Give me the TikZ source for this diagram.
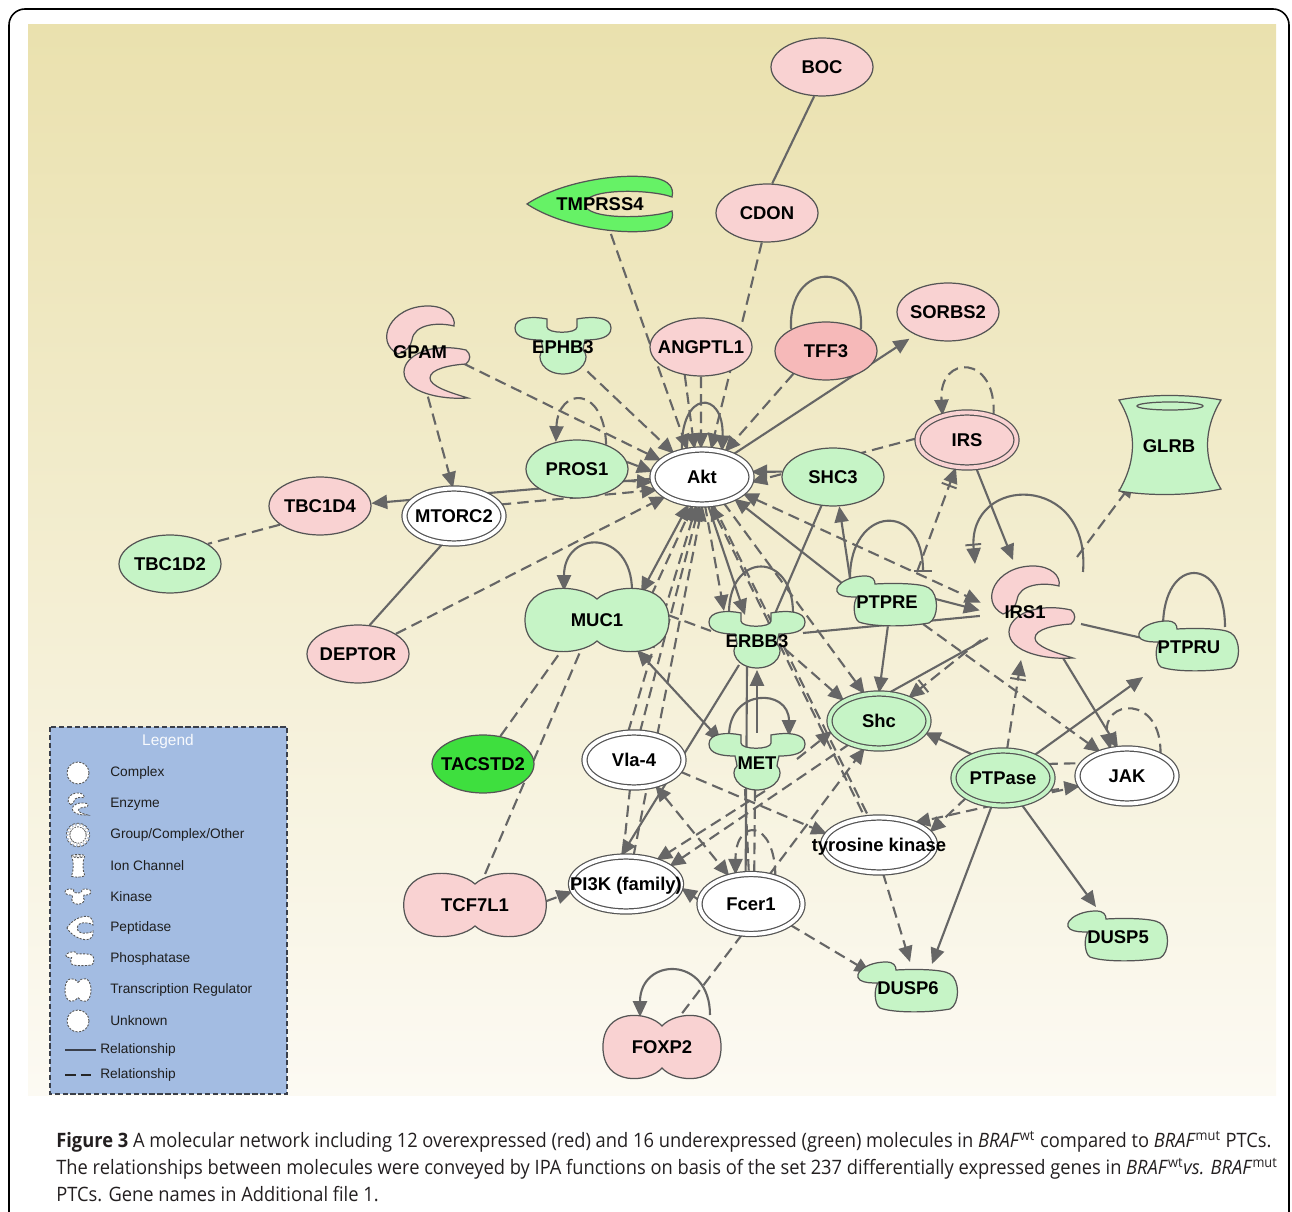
\documentclass[tikz,border=0pt]{standalone}
\usepackage{fontspec}
\usetikzlibrary{arrows.meta,shapes.geometric,calc}
\newfontfamily\labff{Liberation Sans}
\newfontfamily\capff[FakeStretch=0.922]{Open Sans}
\newcommand\labfont{\labff\bfseries\fontsize{10.5}{12}\selectfont}
\newcommand\legfont{\labff\fontsize{7.8}{9}\selectfont}
\newcommand\capfont{\capff\fontsize{11.3}{13}\selectfont}
\newcommand\lbl[1]{\makebox[0pt]{\raisebox{-0.36em}[0pt][0pt]{#1}}}
\definecolor{ncol}{HTML}{555555}
\definecolor{ecol}{HTML}{666666}
\definecolor{pinkc}{HTML}{F9D2D2}
\definecolor{pinkd}{HTML}{F6B9B9}
\definecolor{greenc}{HTML}{C6F4C6}
\definecolor{tacc}{HTML}{3EDF3E}
\definecolor{tmpc}{HTML}{66F266}
\definecolor{bgtop}{HTML}{EAE1AE}
\definecolor{bgbot}{HTML}{FCFAF3}
\definecolor{legc}{HTML}{A3BCE2}
\definecolor{legd}{HTML}{3A3F4A}
\definecolor{capc}{HTML}{231F20}
\definecolor{legt}{HTML}{1E1E1E}
\pgfdeclarelayer{bgl}
\pgfdeclarelayer{edl}
\pgfsetlayers{bgl,edl,main}
\tikzset{
  kinase/.pic={\path[pic actions] (-16,-28) -- (-16,-20) .. controls (-16,-13) and (14,-13) .. (14,-20) -- (14,-28)
     .. controls (30,-31) and (48,-30) .. (48,-19) .. controls (48,-9) and (35,-7) .. (22,-7)
     .. controls (21,-2) and (20,1) .. (20,3) .. controls (28,10) and (20,27) .. (0,27)
     .. controls (-20,27) and (-28,10) .. (-20,3) .. controls (-20,1) and (-21,-2) .. (-22,-7)
     .. controls (-35,-7) and (-48,-9) .. (-48,-19) .. controls (-48,-30) and (-30,-31) .. (-16,-28) -- cycle;},
  enzyme/.pic={\path[pic actions] (-22,2) .. controls (-46,-10) and (-30,-46) .. (8,-46) .. controls (26,-46) and (36,-36) .. (34,-26)
     .. controls (18,-30) and (-6,-28) .. (-8,-12) .. controls (-9,-5) and (-15,0) .. (-22,2) -- cycle;
     \path[pic actions] (46,-2) .. controls (10,-10) and (-16,4) .. (-16,20) .. controls (-16,40) and (20,48) .. (48,46)
     .. controls (28,40) and (10,34) .. (10,26) .. controls (10,17) and (30,13) .. (46,12) .. controls (51,8) and (51,2) .. (46,-2) -- cycle;},
  phos/.pic={\path[pic actions] (-48,-8) .. controls (-56,-14) and (-42,-26) .. (-22,-26) .. controls (-14,-26) and (-12,-22) .. (-12,-18)
     .. controls (5,-19) and (35,-19) .. (42,-14) .. controls (52,-8) and (52,16) .. (42,21)
     .. controls (20,25) and (-15,25) .. (-28,20) .. controls (-34,16) and (-34,0) .. (-30,-5)
     .. controls (-36,-5) and (-44,-5) .. (-48,-8) -- cycle;},
  peanut/.pic={\path[pic actions] (0,-21) .. controls (16,-36) and (72,-40) .. (72,0) .. controls (72,40) and (16,36) .. (0,21)
     .. controls (-16,36) and (-72,40) .. (-72,0) .. controls (-72,-40) and (-16,-36) .. (0,-21) -- cycle;},
  pept/.pic={\path[pic actions] (-73,0) .. controls (-40,-22) and (20,-32) .. (55,-26) .. controls (70,-23) and (74,-16) .. (72,-7)
     .. controls (50,-15) and (-15,-16) .. (-15,0) .. controls (-15,16) and (50,15) .. (72,7)
     .. controls (74,16) and (70,23) .. (55,26) .. controls (20,32) and (-40,22) .. (-73,0) -- cycle;},
  ionch/.pic={\path[pic actions] (-50,-46) .. controls (-20,-52) and (20,-52) .. (52,-46) .. controls (34,-16) and (34,14) .. (52,43)
     .. controls (20,50) and (-20,50) .. (-50,45) .. controls (-32,14) and (-32,-16) .. (-50,-46) -- cycle;
     \path[pic actions] (1,-40) ellipse [x radius=33, y radius=4];},
}
\begin{document}
\begin{tikzpicture}[x=0.02cm,y=-0.02cm,
  el/.style={ellipse, draw=ncol, line width=0.7pt, inner sep=0pt, minimum width=2.04cm, minimum height=1.16cm, font=\labfont},
  pk/.style={el, fill=pinkc},
  gr/.style={el, fill=greenc},
  dbl/.style={el, fill=#1, double=#1, double distance=2.2pt, minimum width=1.98cm, minimum height=1.1cm},
  anc/.style 2 args={ellipse, inner sep=0pt, minimum width=#1, minimum height=#2, font=\labfont},
  shp/.style={draw=ncol, line width=0.7pt, fill=#1},
  rel/.style={draw=ecol, line width=1.2pt},
  drel/.style={rel, dash pattern=on 6.5pt off 3.5pt},
  arr/.style={-{Triangle[length=9pt,width=8pt]}},
  arrb/.style={{Triangle[length=9pt,width=8pt]}-{Triangle[length=9pt,width=8pt]}},
  inh/.style={-{Bar[width=9pt,line width=1.1pt,sep=1.5pt]Triangle[length=9pt,width=8pt]}},
  barend/.style={-{Bar[width=10pt,line width=1.1pt]}},
  icon/.style={fill=white, draw=ncol, line width=0.5pt, dash pattern=on 1.2pt off 0.8pt},
  legl/.style={anchor=west, inner sep=0pt, font=\legfont, text=legt},
]
\useasboundingbox (0,0) rectangle (1292,1212);
\begin{pgfonlayer}{bgl}
\shade[top color=bgtop, bottom color=bgbot] (28,25) rectangle (1276,1095);
\end{pgfonlayer}
\draw[black, line width=0.9pt, rounded corners=0.32cm] (9,1300) -- (9,9) -- (1289,9) -- (1289,1300);

% ---------- nodes ----------
\node[pk] (BOC) at (822,67) {\lbl{BOC}};
\node[pk] (CDON) at (767,213) {\lbl{CDON}};
\pic[shp=tmpc] at (600,204) {pept};
\node[anc={2.9cm}{1.2cm}] (TMPRSS4) at (600,204) {\lbl{TMPRSS4}};
\node[pk] (SORBS2) at (948,312) {\lbl{SORBS2}};
\node[pk] (ANGPTL1) at (701,347) {\lbl{ANGPTL1}};
\node[el, fill=pinkd] (TFF3) at (826,351) {\lbl{TFF3}};
\pic[shp=greenc] at (563,347) {kinase};
\node[anc={1.92cm}{1.12cm}] (EPHB3) at (563,347) {\lbl{EPHB3}};
\pic[shp=pinkc] at (420,352) {enzyme};
\node[anc={1.8cm}{1.8cm}] (GPAM) at (420,352) {\lbl{GPAM}};
\node[gr] (PROS1) at (577,469) {\lbl{PROS1}};
\node[dbl=white] (Akt) at (702,477) {\lbl{Akt}};
\node[gr] (SHC3) at (833,477) {\lbl{SHC3}};
\node[dbl=pinkc] (IRS) at (967,440) {\lbl{IRS}};
\pic[shp=greenc] at (1169,446) {ionch};
\node[anc={2.08cm}{1.92cm}] (GLRB) at (1169,446) {\lbl{GLRB}};
\node[pk] (TBC1D4) at (320,506) {\lbl{TBC1D4}};
\node[dbl=white] (MTORC2) at (454,516) {\lbl{MTORC2}};
\node[gr] (TBC1D2) at (170,564) {\lbl{TBC1D2}};
\node[pk] (DEPTOR) at (358,654) {\lbl{DEPTOR}};
\pic[shp=greenc] at (597,620) {peanut};
\node[anc={2.86cm}{1.28cm}] (MUC1) at (597,620) {\lbl{MUC1}};
\pic[shp=greenc] at (757,641) {kinase};
\node[anc={1.92cm}{1.12cm}] (ERBB3) at (757,641) {\lbl{ERBB3}};
\pic[shp=greenc] at (887,602) {phos};
\node[anc={1.9cm}{0.96cm}] (PTPRE) at (887,602) {\lbl{PTPRE}};
\pic[shp=pinkc] at (1025,612) {enzyme};
\node[anc={1.8cm}{1.8cm}] (IRS1) at (1025,612) {\lbl{IRS1}};
\pic[shp=greenc] at (1189,647) {phos};
\node[anc={1.9cm}{0.96cm}] (PTPRU) at (1189,647) {\lbl{PTPRU}};
\node[dbl=greenc] (Shc) at (879,721) {\lbl{Shc}};
\node[el, fill=tacc] (TACSTD2) at (483,764) {\lbl{TACSTD2}};
\node[dbl=white] (Vla4) at (634,760) {\lbl{Vla-4}};
\pic[shp=greenc] at (757,763) {kinase};
\node[anc={1.92cm}{1.12cm}] (MET) at (757,763) {\lbl{MET}};
\node[dbl=greenc] (PTPase) at (1003,778) {\lbl{PTPase}};
\node[dbl=white] (JAK) at (1127,776) {\lbl{JAK}};
\node[dbl=white, minimum width=2.24cm] (tk) at (879,845) {\lbl{tyrosine kinase}};
\pic[shp=pinkc, xscale=0.99] at (475,905) {peanut};
\node[anc={2.84cm}{1.24cm}] (TCF7L1) at (475,905) {\lbl{TCF7L1}};
\node[dbl=white, minimum width=2.2cm] (PI3K) at (626,884) {\lbl{PI3K (family)}};
\node[dbl=white, minimum width=2.06cm, minimum height=1.2cm] (Fcer1) at (751,904) {\lbl{Fcer1}};
\pic[shp=greenc] at (1118,937) {phos};
\node[anc={1.9cm}{0.96cm}] (DUSP5) at (1118,937) {\lbl{DUSP5}};
\pic[shp=greenc] at (908,988) {phos};
\node[anc={1.9cm}{0.96cm}] (DUSP6) at (908,988) {\lbl{DUSP6}};
\pic[shp=pinkc, xscale=0.82] at (662,1047) {peanut};
\node[anc={2.34cm}{1.3cm}] (FOXP2) at (662,1047) {\lbl{FOXP2}};

% ---------- edges ----------
\begin{pgfonlayer}{edl}
\draw[rel] (BOC.-105) -- (CDON.80);
\draw[drel,arr] (TMPRSS4.-70) -- (Akt.118);
\draw[drel,arr] (CDON.-100) -- (Akt.72);
\draw[drel,arr] (ANGPTL1.-90) -- (Akt.92);
\draw[drel,arr] (ANGPTL1.-120) -- (Akt.105);
\draw[rel,arr] (Akt.128) .. controls +(-2,-62) and +(2,-62) .. (Akt.52);
\draw[drel,arr] (EPHB3.-45) -- (Akt.140);
\draw[drel,arr] (GPAM.-15) -- (Akt.158);
\draw[drel,arr] (GPAM.-80) -- (MTORC2.92);
\draw[drel,arr] (PROS1.40) .. controls +(-2,-60) and +(2,-55) .. (PROS1.128);
\draw[drel,arr] (PROS1.8) -- (Akt.174);
\draw[drel,arr] (PROS1.-14) -- (Akt.-174);
\draw[rel,arr] (Akt.182) -- (TBC1D4.3);
\draw[drel,arr] (MTORC2.14) -- (Akt.-164);
\draw[rel] (MTORC2.-112) -- (DEPTOR.68);
\draw[drel] (TBC1D4.-155) -- (TBC1D2.28);
\draw[drel,arr] (DEPTOR.28) -- (Akt.-152);
\draw[rel,arr] (SHC3.174) -- (Akt.6);
\draw[drel,arr] (IRS.178) -- (Akt.-6);
\draw[drel,arr] (TFF3.-145) -- (Akt.48);
\draw[rel,arr,shorten >=4pt] (Akt.36) -- (SORBS2.-145);
\draw[rel] (TFF3.148) .. controls +(-4,-70) and +(4,-70) .. (TFF3.32);
\draw[drel,arr] (IRS.42) .. controls +(4,-62) and +(-4,-62) .. (IRS.135);
\draw[rel,arr] (IRS.-72) -- ($(IRS1)+(-12,-52)$);
\draw[rel,inh] ($(IRS1)+(58,-40)$) .. controls +(8,-100) and +(-8,-90) .. ($(IRS1)+(-50,-48)$);
\draw[drel,arr] ($(IRS1)+(52,-55)$) -- (GLRB.-135);
\draw[rel,arr] (PTPRE.4) -- (IRS1.178);
\draw[rel,barend] ($(PTPRE)+(-37,-24)$) .. controls +(0,-72) and +(0,-72) .. ($(PTPRE)+(36,-30)$);
\draw[drel,inh] ($(PTPRE)+(30,-30)$) -- (IRS.-112);
\draw[rel,arr] ($(PTPRE)+(-37,-24)$) -- (SHC3.-78);
\draw[rel] (SHC3.-112) -- ($(ERBB3)+(14,-18)$);
\draw[drel,arrb] (Akt.-22) -- (IRS1.168);
\draw[rel,arr] ($(PTPRE)+(-44,-18)$) -- (Akt.-34);
\draw[drel,arr] (Akt.-50) -- (Shc.118);
\draw[drel,arr] ($(ERBB3)+(28,8)$) -- (Shc.150);
\draw[rel,arr] (PTPRE.-88) -- (Shc.90);
\draw[rel] (Shc.72) -- (IRS1.-145);
\draw[rel] ($(ERBB3)+(46,-8)$) -- (IRS1.185);
\draw[drel] (MUC1.4) -- ($(ERBB3)+(-46,-10)$);
\draw[rel,arr] ($(MUC1)+(35,-29)$) .. controls +(0,-62) and +(0,-62) .. ($(MUC1)+(-33,-29)$);
\draw[rel,arrb] ($(MUC1)+(44,-27)$) -- (Akt.-116);
\draw[drel,arr] ($(MUC1)+(54,-24)$) -- (Akt.-108);
\draw[drel,arr] (Vla4.102) -- (Akt.-101);
\draw[drel,arr] (Vla4.78) -- (Akt.-95);
\draw[drel,arr] (PI3K.75) -- (Akt.-89);
\draw[drel,arr] (Akt.-84) -- ($(ERBB3)+(-33,-30)$);
\draw[rel,arr] (Akt.-78) -- ($(ERBB3)+(-12,-26)$);
\draw[drel,{Triangle[length=9pt,width=8pt]}-] (Akt.-73) -- (tk.117);
\draw[drel] (Akt.-68) -- (tk.110);
\draw[rel,arr] ($(MET)+(0,-30)$) -- ($(ERBB3)+(0,29)$);
\draw[rel,arr] ($(MET)+(-28,-27)$) .. controls +(0,-48) and +(0,-48) .. ($(MET)+(32,-27)$);
\draw[rel] ($(ERBB3)+(-28,-28)$) .. controls +(0,-62) and +(0,-62) .. ($(ERBB3)+(36,-28)$);
\draw[rel,arrb] ($(MUC1)+(40,30)$) -- ($(MET)+(-36,-22)$);
\draw[rel,arr] ($(ERBB3)+(-18,24)$) -- (PI3K.100);
\draw[rel] ($(ERBB3)+(-10,26)$) -- (Fcer1.100);
\draw[drel] ($(MET)+(-12,26)$) -- (Fcer1.94);
\draw[drel] ($(MET)+(-2,27)$) -- (Fcer1.84);
\draw[drel,arr] ($(MET)+(40,-4)$) -- (Shc.-168);
\draw[drel,arr] ($(MET)+(8,28)$) -- (PI3K.38);
\draw[drel,arr] (Shc.-142) -- (PI3K.22);
\draw[drel,arr] (Fcer1.58) -- (Shc.-118);
\draw[drel,arr] (Vla4.-14) -- (tk.168);
\draw[drel,arrb] (Vla4.-50) -- (Fcer1.128);
\draw[drel] (Vla4.-98) -- (PI3K.96);
\draw[drel,arr] (Fcer1.176) -- (PI3K.-4);
\draw[drel,arr] (TCF7L1.3) -- (PI3K.-172);
\draw[drel] (TCF7L1.72) -- (MUC1.-118);
\draw[drel] (TACSTD2.58) -- (MUC1.-140);
\draw[drel,arr] (Fcer1.48) .. controls +(0,-58) and +(0,-58) .. (Fcer1.118);
\draw[drel,arr] (Fcer1.-28) -- (DUSP6.158);
\draw[drel] (Fcer1.-106) -- ($(FOXP2)+(18,-31)$);
\draw[rel,arr] ($(FOXP2)+(48,-32)$) .. controls +(0,-60) and +(0,-60) .. ($(FOXP2)+(-22,-30)$);
\draw[drel,arr] (tk.-82) -- ($(DUSP6)+(2,-26)$);
\draw[rel,arr] (PTPase.-112) -- ($(DUSP6)+(24,-24)$);
\draw[rel,arr] (PTPase.-55) -- ($(DUSP5)+(-22,-30)$);
\draw[drel,arr] (PTPase.-152) -- (tk.14);
\draw[drel,arr] (JAK.-168) -- (tk.32);
\draw[rel,arr] (PTPase.142) -- (Shc.-14);
\draw[drel] (PTPase.18) -- (JAK.164);
\draw[drel,arr] (PTPase.-16) -- (JAK.-168);
\draw[drel,inh] (PTPase.82) -- ($(IRS1)+(-4,48)$);
\draw[rel,arr] (PTPase.36) -- ($(PTPRU)+(-46,30)$);
\draw[rel,arr] ($(IRS1)+(38,46)$) -- (JAK.108);
\draw[drel,arr] ($(PTPRE)+(36,22)$) -- (JAK.138);
\draw[rel] ($(IRS1)+(56,12)$) -- ($(PTPRU)+(-47,-9)$);
\draw[rel] ($(PTPRU)+(-26,-20)$) .. controls +(0,-72) and +(0,-72) .. ($(PTPRU)+(36,-20)$);
\draw[drel,arr] (JAK.32) .. controls +(2,-62) and +(-10,-50) .. (JAK.122);
\draw[drel,inh] ($(IRS1)+(-44,28)$) -- (Shc.38);
\end{pgfonlayer}

% ---------- legend ----------
\draw[fill=legc, draw=legd, line width=0.8pt, dash pattern=on 3pt off 1.5pt] (50,727) rectangle (287,1094);
\node[inner sep=0pt, font=\labff\fontsize{8.8}{10}\selectfont, text=white!92!legc] (legtitle) at (168,742) {Legend};
\draw[icon] (78,773) circle[radius=11];
\node[legl] (lg1) at (110,773) {Complex};
\pic[icon, scale=0.24] at (76,804) {enzyme};
\node[legl] (lg2) at (110,804) {Enzyme};
\draw[icon, double=white, double distance=1.5pt] (78,835) circle[radius=10];
\node[legl] (lg3) at (110,835) {Group/Complex/Other};
\pic[icon, xscale=0.13, yscale=0.23] at (78,866) {ionch};
\node[legl] (lg4) at (110,866) {Ion Channel};
\pic[icon, scale=0.27] at (78,897) {kinase};
\node[legl] (lg5) at (110,897) {Kinase};
\pic[icon, xscale=0.18, yscale=0.42] at (80,928) {pept};
\node[legl] (lg6) at (110,928) {Peptidase};
\pic[icon, scale=0.28] at (80,959) {phos};
\node[legl] (lg7) at (110,959) {Phosphatase};
\pic[icon, xscale=0.18, yscale=0.36] at (78,990) {peanut};
\node[legl] (lg8) at (110,990) {Transcription Regulator};
\draw[icon] (78,1021) circle[radius=11];
\node[legl] (lg9) at (110,1021) {Unknown};
\draw[draw=legd, line width=1.1pt] (65,1050) -- (96,1050);
\node[legl] (lg10) at (100,1050) {Relationship};
\draw[draw=black!85, line width=1.7pt, dash pattern=on 6pt off 3pt] (65,1075) -- (96,1075);
\node[legl] (lg11) at (100,1075) {Relationship};

% ---------- caption ----------
\node[anchor=base west, inner sep=0pt, font=\capfont, text=capc] (cap1) at (56,1147)
  {\textbf{Figure 3} A molecular network including 12 overexpressed (red) and 16 underexpressed (green) molecules in \textit{BRAF}\textsuperscript{wt} compared to \textit{BRAF}\textsuperscript{mut} PTCs.};
\node[anchor=base west, inner sep=0pt, font=\capfont, text=capc] (cap2) at (56,1174)
  {The relationships between molecules were conveyed by IPA functions on basis of the set 237 differentially expressed genes in \textit{BRAF}\textsuperscript{wt}\textit{vs. BRAF}\textsuperscript{mut}};
\node[anchor=base west, inner sep=0pt, font=\capfont, text=capc] (cap3) at (56,1201)
  {PTCs. Gene names in Additional file 1.};
\end{tikzpicture}
\end{document}
